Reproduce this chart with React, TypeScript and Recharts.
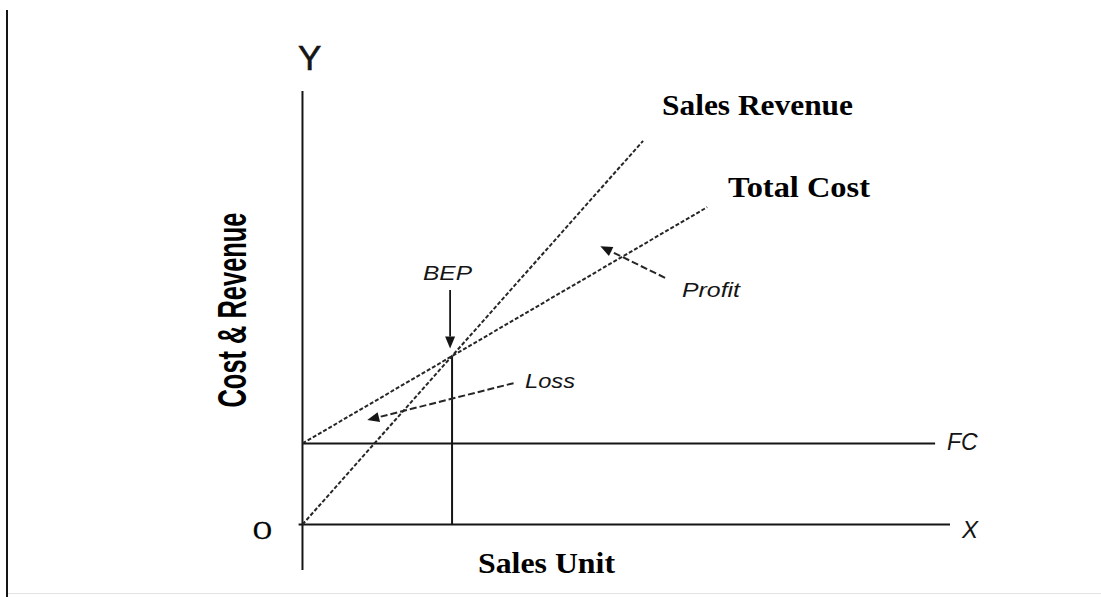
import React from 'react'
import { LineChart, Line, XAxis, YAxis, ReferenceLine } from 'recharts'

// break-even chart: values in chart units (x: sales units, y: cost & revenue)
const revenuePoints = [
  { x: 0, y: 0 },
  { x: 52.6, y: 88.5 },
]
const totalCostPoints = [
  { x: 0, y: 18.7 },
  { x: 62.5, y: 73.2 },
]
const fixedCostPoints = [
  { x: 0, y: 18.7 },
  { x: 97.7, y: 18.7 },
]
const bepPoint = { x: 23.1, y: 38.9 }
const xDomain = [-1, 100]
const yDomain = [-10.5, 100]

// annotation arrows [x1, y1, x2, y2]
const arrowBep = [22.8, 54.1, 22.8, 40.6]
const arrowLoss = [32.6, 32.6, 10.0, 24.1]
const arrowProfit = [56.0, 56.9, 46.0, 64.2]

const INK = '#151515'
const DASH = '#262626'
const serif = '"Liberation Serif", "Times New Roman", serif'
const sans = '"Liberation Sans", Arial, sans-serif'

const makeArrow = (dashed: boolean) => (p: any) => {
  const { x1, y1, x2, y2 } = p
  const dx = x2 - x1
  const dy = y2 - y1
  const len = Math.sqrt(dx * dx + dy * dy) || 1
  const ux = dx / len
  const uy = dy / len
  const head = 12
  const half = 5
  const bx = x2 - ux * head
  const by = y2 - uy * head
  const pts = `${x2},${y2} ${bx - uy * half},${by + ux * half} ${bx + uy * half},${by - ux * half}`
  return (
    <g>
      <line
        x1={x1}
        y1={y1}
        x2={bx}
        y2={by}
        stroke={dashed ? DASH : INK}
        strokeWidth={dashed ? 2 : 1.8}
        strokeDasharray={dashed ? '7 3' : undefined}
      />
      <polygon points={pts} fill={INK} />
    </g>
  )
}

export default function App() {
  return (
    <div
      style={{
        position: 'absolute',
        left: 0,
        top: 0,
        width: 1101,
        height: 597,
        background: '#fff',
      }}
    >
      <div
        style={{
          position: 'absolute',
          left: 6,
          top: 10,
          width: 2,
          height: 587,
          background: INK,
        }}
      />
      <div
        style={{
          position: 'absolute',
          left: 8,
          top: 593,
          width: 1093,
          height: 1,
          background: '#e4e4e4',
        }}
      />
      <LineChart
        width={1101}
        height={597}
        margin={{ top: 91, right: 151, bottom: 27, left: 296 }}
        style={{ position: 'absolute', left: 0, top: 0 }}
      >
        <XAxis type="number" dataKey="x" domain={xDomain} allowDataOverflow hide />
        <YAxis type="number" dataKey="y" domain={yDomain} allowDataOverflow hide />

        {/* axes */}
        <ReferenceLine
          segment={[{ x: -0.6, y: 0 }, { x: 100, y: 0 }]}
          stroke={INK}
          strokeWidth={2}
          ifOverflow="visible"
        />
        <ReferenceLine
          segment={[{ x: 0, y: -10.5 }, { x: 0, y: 100 }]}
          stroke={INK}
          strokeWidth={2}
          ifOverflow="visible"
        />
        <ReferenceLine
          segment={[{ x: bepPoint.x, y: 0 }, { x: bepPoint.x, y: bepPoint.y }]}
          stroke={INK}
          strokeWidth={2}
        />

        <Line
          data={fixedCostPoints}
          dataKey="y"
          stroke={INK}
          strokeWidth={2}
          dot={false}
          activeDot={false}
          isAnimationActive={false}
        />
        <Line
          data={revenuePoints}
          dataKey="y"
          stroke={DASH}
          strokeWidth={2}
          strokeDasharray="4 2"
          dot={false}
          activeDot={false}
          isAnimationActive={false}
        />
        <Line
          data={totalCostPoints}
          dataKey="y"
          stroke={DASH}
          strokeWidth={2}
          strokeDasharray="4 2"
          dot={false}
          activeDot={false}
          isAnimationActive={false}
        />

        <ReferenceLine
          segment={[{ x: arrowBep[0], y: arrowBep[1] }, { x: arrowBep[2], y: arrowBep[3] }]}
          shape={makeArrow(false)}
        />
        <ReferenceLine
          segment={[{ x: arrowLoss[0], y: arrowLoss[1] }, { x: arrowLoss[2], y: arrowLoss[3] }]}
          shape={makeArrow(true)}
        />
        <ReferenceLine
          segment={[{ x: arrowProfit[0], y: arrowProfit[1] }, { x: arrowProfit[2], y: arrowProfit[3] }]}
          shape={makeArrow(true)}
        />

        {/* labels */}
        <text x={662} y={115} fontFamily={serif} fontWeight="bold" fontSize={30} textLength={191} lengthAdjust="spacingAndGlyphs" fill="#000">
          Sales Revenue
        </text>
        <text x={728} y={197} fontFamily={serif} fontWeight="bold" fontSize={30} textLength={142} lengthAdjust="spacingAndGlyphs" fill="#000">
          Total Cost
        </text>
        <text x={478} y={573} fontFamily={serif} fontWeight="bold" fontSize={30} textLength={137} lengthAdjust="spacingAndGlyphs" fill="#000">
          Sales Unit
        </text>
        <text x={253} y={539} fontFamily={serif} fontSize={26} fill="#000" stroke="#000" strokeWidth={0.5}>
          O
        </text>
        <text x={298} y={70} fontFamily={sans} fontSize={35} fill={INK} stroke={INK} strokeWidth={0.6}>
          Y
        </text>
        <text x={962} y={538} fontFamily={sans} fontStyle="italic" fontSize={24} fill={INK}>
          X
        </text>
        <text x={947} y={450} fontFamily={sans} fontStyle="italic" fontSize={23} fill={INK}>
          FC
        </text>
        <text x={423} y={280} fontFamily={sans} fontStyle="italic" fontSize={21} textLength={49} lengthAdjust="spacingAndGlyphs" fill={INK}>
          BEP
        </text>
        <text x={525} y={388} fontFamily={sans} fontStyle="italic" fontSize={21} textLength={50} lengthAdjust="spacingAndGlyphs" fill={INK}>
          Loss
        </text>
        <text x={682} y={297} fontFamily={sans} fontStyle="italic" fontSize={21} textLength={58} lengthAdjust="spacingAndGlyphs" fill={INK}>
          Profit
        </text>
        <text
          x={232}
          y={310}
          transform="rotate(-90 232 310)"
          textAnchor="middle"
          dominantBaseline="central"
          fontFamily={'"Liberation Sans Narrow", "Liberation Sans", Arial, sans-serif'}
          fontWeight="bold"
          fontSize={40}
          textLength={195}
          lengthAdjust="spacingAndGlyphs"
          fill="#000"
        >
          Cost &amp; Revenue
        </text>
      </LineChart>
    </div>
  )
}
